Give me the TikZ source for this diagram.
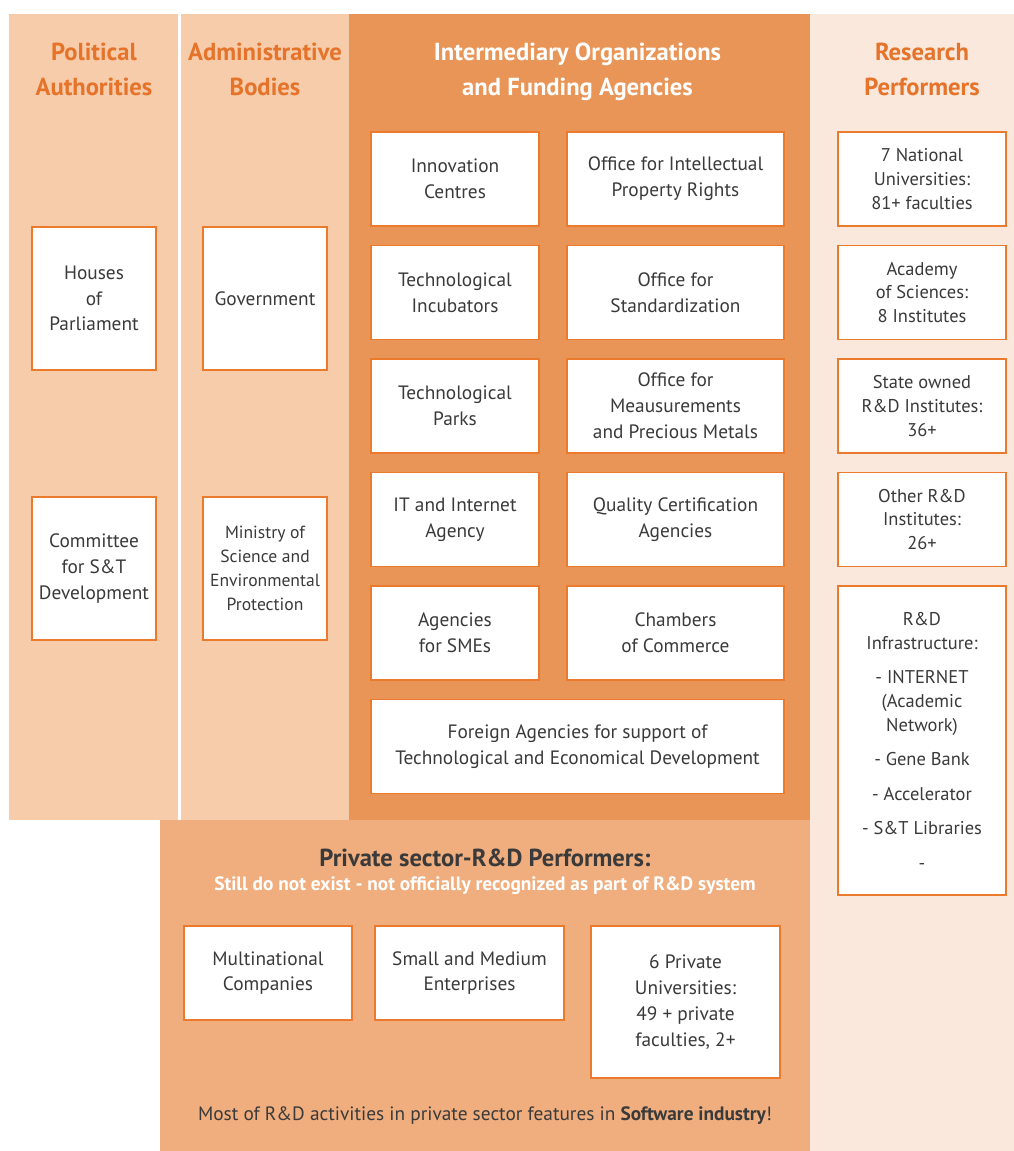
\documentclass[tikz,border=0pt]{standalone}
\usepackage{fontspec}
\setmainfont{PT Sans}
\usetikzlibrary{positioning}

\definecolor{polbg}{HTML}{F7CCAA}
\definecolor{intbg}{HTML}{E99558}
\definecolor{resbg}{HTML}{FAE8DC}
\definecolor{privbg}{HTML}{F0AE7E}
\definecolor{boxline}{HTML}{EB7A2C}
\definecolor{headorange}{HTML}{E5732A}
\definecolor{darktext}{HTML}{3A3A3A}

\begin{document}
\begin{tikzpicture}[
    node distance=0.39cm and 0.56cm,
    orgbox/.style={rectangle, draw=boxline, line width=0.8pt, fill=white, text=darktext, align=center,
        minimum width=3.36cm, minimum height=1.88cm, inner sep=2pt, outer sep=0pt,
        font=\fontsize{11}{14.7}\selectfont},
    widebox/.style={orgbox, minimum width=4.34cm},
    tallbox/.style={orgbox, minimum width=2.48cm, minimum height=2.86cm},
    resbox/.style={orgbox, font=\fontsize{10.5}{13.6}\selectfont},
    header/.style={font=\fontsize{14}{19.8}\selectfont\bfseries, text=headorange, align=center},
    note/.style={font=\fontsize{11}{14}\selectfont, text=darktext, align=center}
]
\useasboundingbox (0,0) rectangle (20.28,-23.02);

% Column backgrounds
\fill[white] (0,0) rectangle (20.28,-23.02);
\fill[polbg] (0.18,-0.28) rectangle (3.56,-16.4);
\fill[polbg] (3.62,-0.28) rectangle (6.98,-16.4);
\fill[intbg] (6.98,-0.28) rectangle (16.2,-16.4);
\fill[resbg] (16.2,-0.28) rectangle (20.28,-23.02);
\fill[privbg] (3.2,-16.4) rectangle (16.2,-23.02);

% Column headings
\node[header] (polhead) at (1.88,-1.39) {Political\\Authorities};
\node[header] (admhead) at (5.3,-1.39) {Administrative\\Bodies};
\node[header, text=white] (inthead) at (11.55,-1.44) {Intermediary Organizations\\and Funding Agencies};
\node[header] (reshead) at (18.44,-1.39) {Research\\Performers};

% Political authorities
\node[tallbox] (parl) at (1.88,-5.97) {Houses\\of\\Parliament};
\node[tallbox] (committee) at (1.88,-11.37) {Committee\\for S\&T\\Development};

% Administrative bodies
\node[tallbox] (gov) at (5.3,-5.97) {Government};
\node[tallbox, font=\fontsize{10}{13.6}\selectfont] (ministry) at (5.3,-11.37) {Ministry of\\Science and\\Environmental\\Protection};

% Intermediary organizations - left column
\node[orgbox] (innov) at (9.1,-3.58) {Innovation\\Centres};
\node[orgbox, below=of innov] (incub) {Technological\\Incubators};
\node[orgbox, below=of incub] (parks) {Technological\\Parks};
\node[orgbox, below=of parks] (itagency) {IT and Internet\\Agency};
\node[orgbox, below=of itagency] (smes) {Agencies\\for SMEs};

% Intermediary organizations - right column
\node[widebox, right=of innov] (ipr) {Office for Intellectual\\Property Rights};
\node[widebox, below=of ipr] (stand) {Office for\\Standardization};
\node[widebox, below=of stand] (measure) {Office for\\Meausurements\\and Precious Metals};
\node[widebox, below=of measure] (quality) {Quality Certification\\Agencies};
\node[widebox, below=of quality] (chambers) {Chambers\\of Commerce};
\node[orgbox, minimum width=8.26cm, below=of chambers.south east, anchor=north east] (foreign)
    {Foreign Agencies for support of\\Technological and Economical Development};

% Research performers
\node[resbox] (univ) at (18.44,-3.58) {7 National\\Universities:\\81+ faculties};
\node[resbox, below=of univ] (academy) {Academy\\of Sciences:\\8 Institutes};
\node[resbox, below=of academy] (stateinst) {State owned\\R\&D Institutes:\\36+};
\node[resbox, below=of stateinst] (otherinst) {Other R\&D\\Institutes:\\26+};
\node[resbox, minimum height=6.18cm, below=of otherinst] (infra)
    {R\&D\\Infrastructure:\\[6pt]- INTERNET\\(Academic\\Network)\\[6pt]- Gene Bank\\[6pt]- Accelerator\\[6pt]- S\&T Libraries\\[6pt]-};

% Private sector
\node[header, text=darktext] (privhead) at (9.7,-17.16) {Private sector-R\&D Performers:};
\node[font=\fontsize{11}{13}\selectfont\bfseries, text=white] (privsub) at (9.7,-17.72)
    {Still do not exist - not officially recognized as part of R\&D system};
\node[orgbox] (multi) at (5.36,-19.46) {Multinational\\Companies};
\node[orgbox, minimum width=3.78cm] (sme) at (9.39,-19.46) {Small and Medium\\Enterprises};
\node[orgbox, minimum width=3.78cm, minimum height=3.04cm, anchor=north] (privuniv) at (13.71,-18.52)
    {6 Private\\Universities:\\49 + private\\faculties, 2+};
\node[note] (software) at (9.7,-22.32)
    {Most of R\&D activities in private sector features in \textbf{Software industry}!};

\end{tikzpicture}
\end{document}
